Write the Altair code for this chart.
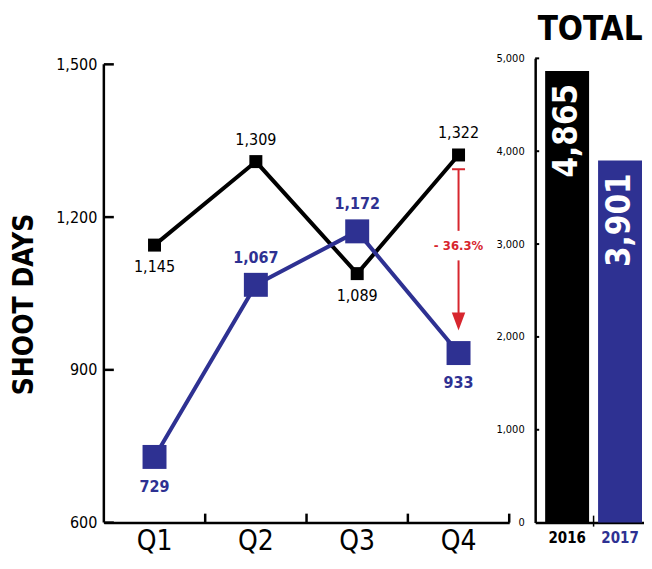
import altair as alt
import pandas as pd

# ---------------- data ----------------
quarters = ["Q1", "Q2", "Q3", "Q4"]
days_2016 = [1145, 1309, 1089, 1322]
days_2017 = [729, 1067, 1172, 933]
label_pos_2016 = ["below", "above", "below", "above"]
label_pos_2017 = ["below", "above", "above", "below"]
left_ticks = [600, 900, 1200, 1500]

years = ["2016", "2017"]
totals = [4865, 3901]
right_ticks = [0, 1000, 2000, 3000, 4000, 5000]
total_title = ["TOTAL"]
axis_title = "SHOOT DAYS"

change_text = ["- 36.3%"]
change_quarter = ["Q4"]
arrow_top = [1294]
arrow_gap = [1173, 1115]
arrow_head = [995]
change_mid = [1144]

# ---------------- style ----------------
BLACK = "#000000"
BLUE = "#2E3192"
RED = "#D7262E"
FONT = "DejaVu Sans Condensed"

L_W, L_H = 406, 465
R_W, R_H = 109, 465
left_domain = [600, 1500 + 6 * 900 / 459]

df16 = pd.DataFrame({"q": quarters, "v": days_2016, "pos": label_pos_2016})
df17 = pd.DataFrame({"q": quarters, "v": days_2017, "pos": label_pos_2017})
dticks = pd.DataFrame({"v": left_ticks})
dq = pd.DataFrame({"q": quarters})
darrow = pd.DataFrame({
    "q": change_quarter * 2,
    "v": [arrow_top[0], arrow_gap[1]],
    "v2": [arrow_gap[0], arrow_head[0]],
})
dcap = pd.DataFrame({"q": change_quarter, "v": arrow_top})
dhead = pd.DataFrame({"q": change_quarter, "v": arrow_head})
dchg = pd.DataFrame({"q": change_quarter, "v": change_mid, "t": change_text})

x_axis = alt.Axis(title=None, ticks=False, labelAngle=0, labelFont=FONT,
                  labelFontSize=28, labelColor=BLACK, labelPadding=5,
                  domainColor=BLACK, domainWidth=2.5, grid=False)
x_scale = alt.Scale(type="band", domain=quarters, paddingInner=0, paddingOuter=0)


def xq(band=0.5):
    return alt.X("q:N", scale=x_scale, axis=x_axis, bandPosition=band)


y_axis = alt.Axis(values=left_ticks, format=",d", title=axis_title,
                  titleFont=FONT, titleFontSize=28, titleFontWeight="bold",
                  titleColor=BLACK, titleAngle=270, titleX=-71, titleY=246,
                  titleBaseline="alphabetic", titleAlign="center",
                  labelFont=FONT, labelFontSize=16, labelColor=BLACK,
                  labelPadding=7, ticks=False, domain=False, grid=False)
y_scale = alt.Scale(domain=left_domain, nice=False, zero=False)


def yv(field="v"):
    return alt.Y(f"{field}:Q", scale=y_scale, axis=y_axis)


# custom axis line & inward ticks
l_axis_line = alt.Chart(pd.DataFrame({"v": [min(left_ticks)], "v2": [max(left_ticks)]})).mark_rule(
    color=BLACK, strokeWidth=2.5).encode(x=alt.value(0), y=yv(), y2="v2:Q")
l_yticks = alt.Chart(dticks).mark_rule(color=BLACK, strokeWidth=2.5).encode(
    x=alt.value(0), x2=alt.value(10), y=yv())
l_xticks = alt.Chart(dq).mark_rule(color=BLACK, strokeWidth=2.5).encode(
    x=xq(1), y=alt.value(L_H), y2=alt.value(L_H - 9))

line16 = alt.Chart(df16).mark_line(color=BLACK, strokeWidth=4).encode(x=xq(), y=yv())
pts16 = alt.Chart(df16).mark_square(color=BLACK, size=169, opacity=1).encode(x=xq(), y=yv())
line17 = alt.Chart(df17).mark_line(color=BLUE, strokeWidth=4).encode(x=xq(), y=yv())
pts17 = alt.Chart(df17).mark_square(color=BLUE, size=576, opacity=1).encode(x=xq(), y=yv())


def labels(df, pos, dy, color, weight):
    return alt.Chart(df).transform_filter(alt.datum.pos == pos).mark_text(
        font=FONT, fontSize=16, fontWeight=weight, color=color,
        baseline="alphabetic", dy=dy).encode(
        x=xq(), y=yv(), text=alt.Text("v:Q", format=","))


lab16a = labels(df16, "above", -17, BLACK, "normal")
lab16b = labels(df16, "below", 27, BLACK, "normal")
lab17a = labels(df17, "above", -22, BLUE, "bold")
lab17b = labels(df17, "below", 35, BLUE, "bold")

arrow_rules = alt.Chart(darrow).mark_rule(color=RED, strokeWidth=2).encode(
    x=xq(), y=yv(), y2="v2:Q")
arrow_cap = alt.Chart(dcap).mark_point(shape="M-1,0L1,0", size=169, color=RED,
                                       strokeWidth=2, filled=False, opacity=1).encode(x=xq(), y=yv())
arrow_tip = alt.Chart(dhead).mark_point(shape="M-0.75,-1L0.75,-1L0,1Z", size=324, color=RED,
                                        filled=True, opacity=1).encode(x=xq(), y=yv())
chg_text = alt.Chart(dchg).mark_text(font=FONT, fontSize=13, fontWeight="bold", color=RED,
                                     baseline="middle").encode(x=xq(), y=yv(), text="t:N")

left = alt.layer(
    l_axis_line, l_yticks, l_xticks,
    line16, line17, pts16, pts17,
    lab16a, lab16b, lab17a, lab17b,
    arrow_rules, arrow_cap, arrow_tip, chg_text,
).properties(width=L_W, height=L_H)

# ---------------- right chart ----------------
dtot = pd.DataFrame({"yr": years, "v": totals})
drt = pd.DataFrame({"v": [t for t in right_ticks if t > 0]})
dtitle = pd.DataFrame({"t": total_title})

rx_scale = alt.Scale(domain=years, paddingInner=9 / 53, paddingOuter=6 / 53, align=10 / 12)
rx_axis = alt.Axis(title=None, ticks=False, labelAngle=0, labelFont=FONT, labelFontSize=15,
                   labelFontWeight="bold",
                   labelColor={"expr": f"datum.value == '2017' ? '{BLUE}' : '{BLACK}'"},
                   labelPadding=8, domainColor=BLACK, domainWidth=2.5, grid=False)
ry_scale = alt.Scale(domain=[0, 5000], nice=False)
ry_axis = alt.Axis(values=right_ticks, format=",d", title=None, ticks=False,
                   labelFont=FONT, labelFontSize=11, labelColor=BLACK, labelPadding=11,
                   domainColor=BLACK, domainWidth=2.5, grid=False)

bars = alt.Chart(dtot).mark_bar().encode(
    x=alt.X("yr:N", scale=rx_scale, axis=rx_axis),
    y=alt.Y("v:Q", scale=ry_scale, axis=ry_axis),
    color=alt.Color("yr:N", scale=alt.Scale(domain=years, range=[BLACK, BLUE]), legend=None),
)
bar_text = alt.Chart(dtot).mark_text(angle=270, align="right", baseline="middle", dx=-13,
                                     color="white", font=FONT, fontSize=33,
                                     fontWeight="bold").encode(
    x=alt.X("yr:N", scale=rx_scale, axis=rx_axis),
    y=alt.Y("v:Q", scale=ry_scale, axis=ry_axis),
    text=alt.Text("v:Q", format=","),
)
r_yticks = alt.Chart(drt).mark_rule(color=BLACK, strokeWidth=2).encode(
    x=alt.value(0), x2=alt.value(4), y=alt.Y("v:Q", scale=ry_scale, axis=ry_axis))
r_xtick = alt.Chart(dtitle).mark_rule(color=BLACK, strokeWidth=1.5).encode(
    x=alt.value(58.5), y=alt.value(R_H - 7), y2=alt.value(R_H + 4))
title_text = alt.Chart(dtitle).mark_text(font=FONT, fontSize=33, fontWeight="bold",
                                         color=BLACK, baseline="alphabetic",
                                         align="center").encode(
    x=alt.value(55), y=alt.value(-18), text="t:N")

right = alt.layer(bars, bar_text, r_yticks, r_xtick, title_text).properties(width=R_W, height=R_H)

chart = alt.hconcat(left, right, spacing=26, bounds="flush").properties(
    padding={"top": 6, "left": 3, "right": 0, "bottom": 0}, background="white"
).configure_view(stroke=None)

chart.save("out.html", embed_options={"renderer": "svg", "actions": False})
